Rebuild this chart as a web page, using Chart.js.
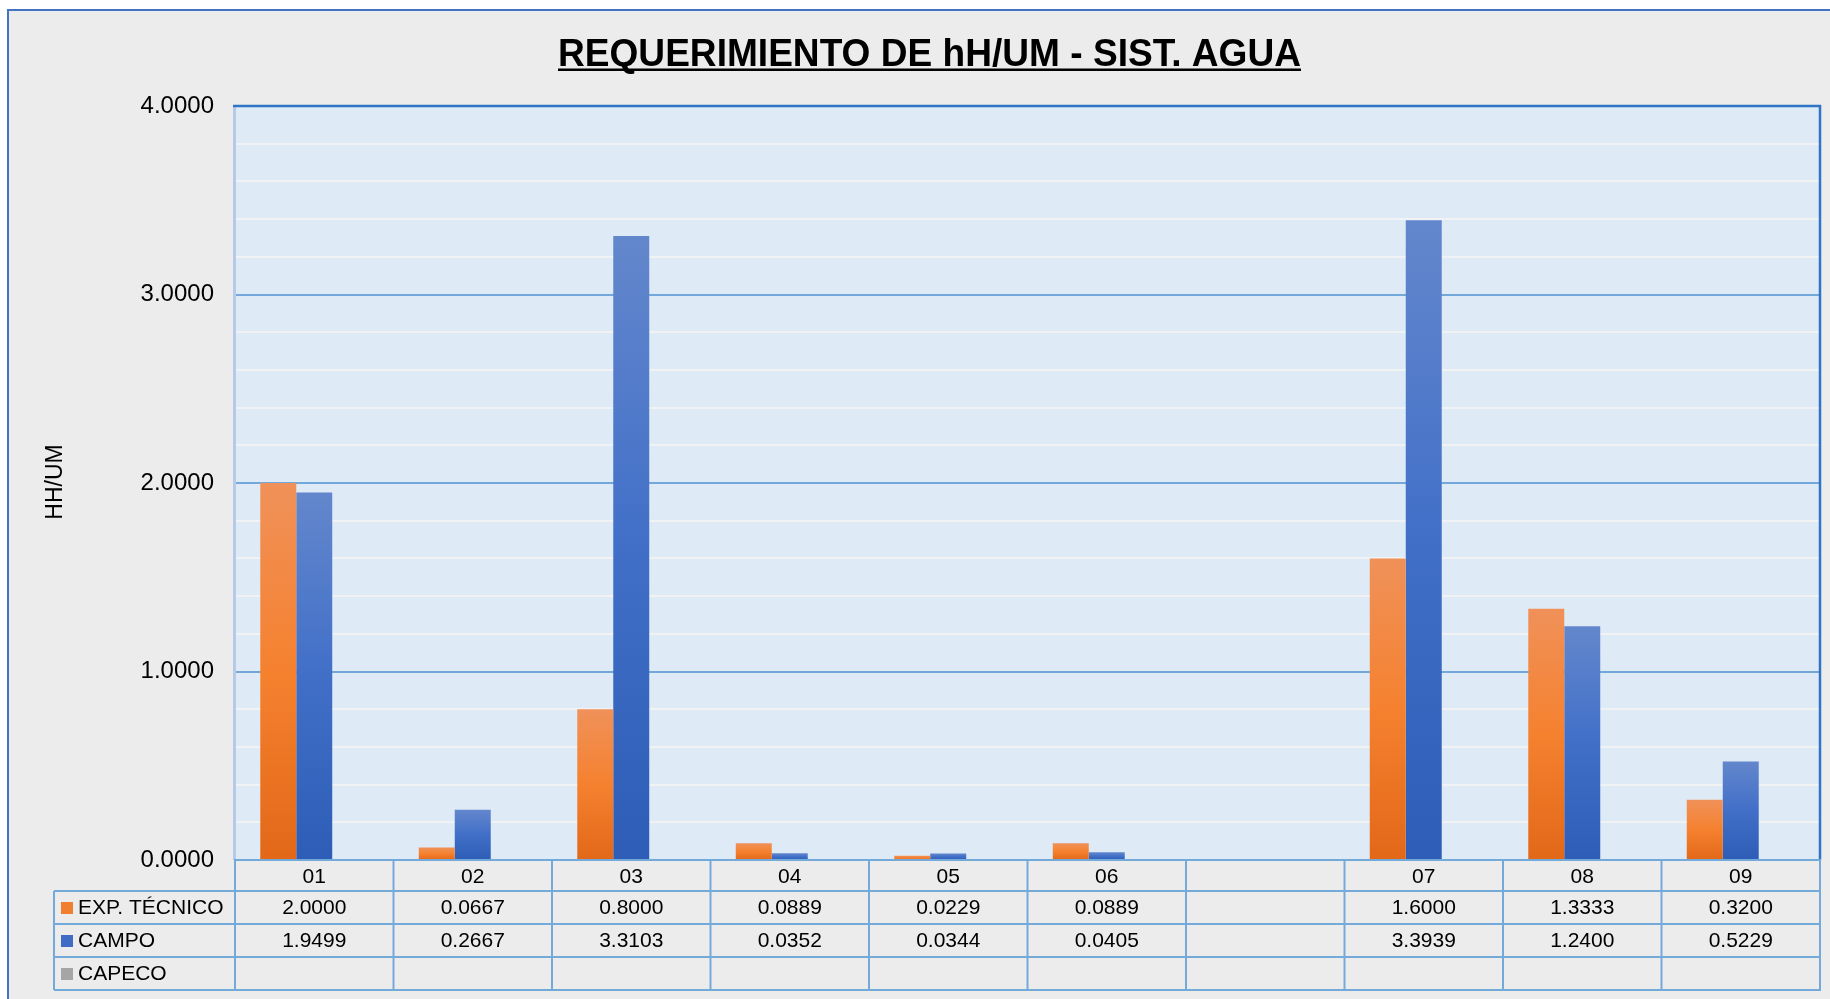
<!DOCTYPE html>
<html><head><meta charset="utf-8">
<script src="https://cdn.jsdelivr.net/npm/chart.js@4.4.1/dist/chart.umd.min.js"></script>
<style>
html,body{margin:0;padding:0;background:#fff;width:1830px;height:999px;overflow:hidden;}
#frame{position:absolute;left:7px;top:9px;width:1840px;height:1000px;background:#ECECEC;border-left:2px solid #4472C4;border-top:2px solid #4472C4;}
#c{position:absolute;left:0;top:0;}
</style></head><body>
<div id="frame"></div>
<canvas id="c" width="1830" height="999"></canvas>
<script>
// ---- data ----
const categories = ['01','02','03','04','05','06','','07','08','09'];
const expTecnico = [2.0000, 0.0667, 0.8000, 0.0889, 0.0229, 0.0889, null, 1.6000, 1.3333, 0.3200];
const campo      = [1.9499, 0.2667, 3.3103, 0.0352, 0.0344, 0.0405, null, 3.3939, 1.2400, 0.5229];
const capeco     = [null, null, null, null, null, null, null, null, null, null];
const seriesNames = ['EXP. TÉCNICO', 'CAMPO', 'CAPECO'];
const yTicks = [0, 1, 2, 3, 4];
const chartTitle = 'REQUERIMIENTO DE hH/UM - SIST. AGUA';
const yTitle = 'HH/UM';

const FONT = '"Liberation Sans", Arial, sans-serif';
Chart.defaults.font.family = FONT;
Chart.defaults.color = '#000';

function barGradient(stops) {
  return (ctx) => {
    const chart = ctx.chart;
    const area = chart.chartArea;
    if (!area || ctx.type !== 'data' || ctx.raw == null) return stops[1];
    const y = chart.scales.y;
    const top = y.getPixelForValue(ctx.raw), base = y.getPixelForValue(0);
    if (!(base > top)) return stops[1];
    const g = chart.ctx.createLinearGradient(0, top, 0, base);
    g.addColorStop(0, stops[0]);
    g.addColorStop(0.5, stops[1]);
    g.addColorStop(1, stops[2]);
    return g;
  };
}
const orangeStops = ['#F09159', '#F5812F', '#E26818'];
const blueStops = ['#6387CC', '#416FC8', '#2D5DB6'];
const grayStops = ['#B5B5B5', '#A5A5A5', '#8F8F8F'];
const swatchColors = ['#F07F30', '#3F6CC4', '#A5A5A5'];

const decor = {
  id: 'decor',
  beforeDraw(chart) {
    const {ctx, chartArea: a} = chart;
    ctx.save();
    ctx.fillStyle = '#DEEAF6';
    ctx.fillRect(a.left, a.top, a.right - a.left, a.bottom - a.top);
    ctx.restore();
  },
  afterDraw(chart) {
    const {ctx, chartArea: a, scales} = chart;
    const x = scales.x;
    ctx.save();
    // plot borders
    ctx.fillStyle = '#B6C9E8';
    ctx.fillRect(a.left - 2, a.top, 3, a.bottom - a.top);
    ctx.strokeStyle = '#2E75C6';
    ctx.lineWidth = 2.5;
    ctx.beginPath();
    ctx.moveTo(a.left - 2, a.top); ctx.lineTo(a.right, a.top); ctx.lineTo(a.right, a.bottom);
    ctx.stroke();

    // data table
    const rowEdges = [0, 31, 64, 97, 130].map(v => a.bottom + v);
    const legendLeft = 54;
    const half = (x.getPixelForValue(1) - x.getPixelForValue(0)) / 2;
    ctx.strokeStyle = '#74AADA';
    ctx.lineWidth = 2;
    ctx.beginPath();
    ctx.moveTo(a.left - 1, rowEdges[0]); ctx.lineTo(a.right + 1, rowEdges[0]);
    for (let r = 1; r < rowEdges.length; r++) {
      ctx.moveTo(legendLeft, rowEdges[r]); ctx.lineTo(a.right + 1, rowEdges[r]);
    }
    ctx.moveTo(legendLeft, rowEdges[1]); ctx.lineTo(legendLeft, rowEdges[4]);
    for (let i = 0; i <= categories.length; i++) {
      const px = i < categories.length ? x.getPixelForValue(i) - half : x.getPixelForValue(categories.length - 1) + half;
      ctx.moveTo(px, rowEdges[0]); ctx.lineTo(px, rowEdges[4]);
    }
    ctx.stroke();

    ctx.font = '21px ' + FONT;
    ctx.fillStyle = '#000';
    ctx.textBaseline = 'middle';
    const rows = [expTecnico, campo, capeco];
    rows.forEach((vals, r) => {
      const cy = (rowEdges[r + 1] + rowEdges[r + 2]) / 2 + 1;
      // legend key
      ctx.fillStyle = swatchColors[r];
      ctx.fillRect(61, cy - 6.5, 12, 12);
      ctx.fillStyle = '#000';
      ctx.textAlign = 'left';
      ctx.fillText(seriesNames[r], 78, cy);
      ctx.textAlign = 'center';
      vals.forEach((v, i) => {
        if (v == null) return;
        ctx.fillText(v.toFixed(4), x.getPixelForValue(i), cy);
      });
    });

    // title
    ctx.font = 'bold 38px ' + FONT;
    ctx.textAlign = 'center';
    ctx.textBaseline = 'alphabetic';
    const tw = ctx.measureText(chartTitle).width;
    const targetW = 743, sx = targetW / tw, cx = 929.5;
    ctx.save();
    ctx.translate(cx, 65.5);
    ctx.scale(sx, 1);
    ctx.fillText(chartTitle, 0, 0);
    ctx.restore();
    ctx.fillRect(cx - targetW / 2, 68.5, targetW, 2.5);

    // y title
    ctx.save();
    ctx.translate(56, 482);
    ctx.rotate(-Math.PI / 2);
    ctx.font = '23px ' + FONT;
    ctx.textAlign = 'center';
    ctx.textBaseline = 'middle';
    ctx.fillText(yTitle, 0, 0);
    ctx.restore();
    ctx.restore();
  }
};

new Chart(document.getElementById('c'), {
  type: 'bar',
  data: {
    labels: categories,
    datasets: [
      {label: seriesNames[0], data: expTecnico, backgroundColor: barGradient(orangeStops)},
      {label: seriesNames[1], data: campo, backgroundColor: barGradient(blueStops)},
      {label: seriesNames[2], data: capeco, backgroundColor: barGradient(grayStops)}
    ]
  },
  options: {
    responsive: false,
    animation: false,
    devicePixelRatio: 1,
    categoryPercentage: 0.681,
    barPercentage: 1.0,
    layout: {padding: {top: 106, right: 10, bottom: 9, left: 0}},
    plugins: {legend: {display: false}, tooltip: {enabled: false}, title: {display: false}},
    scales: {
      x: {
        type: 'category', offset: true,
        grid: {display: false, drawTicks: false},
        border: {display: false},
        ticks: {color: '#000', font: {size: 21}, padding: 5, maxRotation: 0, autoSkip: false},
        afterFit(s) { s.height = 130; }
      },
      y: {
        min: 0, max: 4,
        border: {display: false},
        grid: {
          drawTicks: false, lineWidth: 2,
          color: (c) => {
            const v = c.tick ? c.tick.value : 0;
            return yTicks.some(t => Math.abs(t - v) < 1e-6) ? '#73A9DA' : '#F1F2F4';
          }
        },
        ticks: {
          stepSize: 0.2, autoSkip: false, color: '#000', font: {size: 24}, padding: 21,
          callback: (v) => yTicks.some(t => Math.abs(t - v) < 1e-6) ? Number(v).toFixed(4) : ''
        },
        afterFit(s) { s.width = 235; }
      }
    }
  },
  plugins: [decor]
});
</script>
</body></html>
